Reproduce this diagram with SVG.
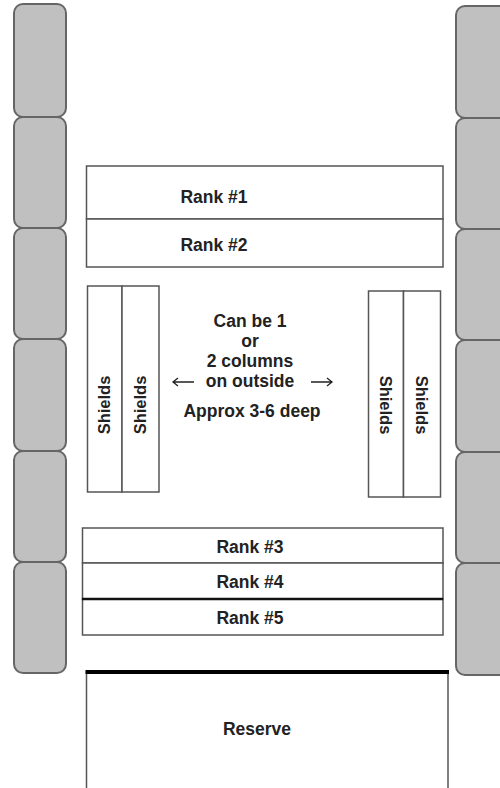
<svg xmlns="http://www.w3.org/2000/svg" width="500" height="788" viewBox="0 0 500 788">
<style>
.pill{fill:#c0c0c0;stroke:#666;stroke-width:2}
.box{fill:#fff;stroke:#555;stroke-width:1.5}
.t{font-family:"Liberation Sans",Arial,sans-serif;font-weight:bold;font-size:17.5px;fill:#222;text-anchor:middle}
.s{font-size:16.5px}
.arr{fill:none;stroke:#222;stroke-width:1.3}
</style>
<rect width="500" height="788" fill="#fff"/>
<g id="left-wall">
<rect class="pill" x="14" y="4" width="52" height="113" rx="9"/>
<rect class="pill" x="14" y="117" width="52" height="111" rx="9"/>
<rect class="pill" x="14" y="228" width="52" height="111" rx="9"/>
<rect class="pill" x="14" y="339" width="52" height="112" rx="9"/>
<rect class="pill" x="14" y="451" width="52" height="111" rx="9"/>
<rect class="pill" x="14" y="562" width="52" height="111" rx="9"/>
</g>
<g id="right-wall">
<rect class="pill" x="456" y="6" width="60" height="112" rx="9"/>
<rect class="pill" x="456" y="118" width="60" height="111" rx="9"/>
<rect class="pill" x="456" y="229" width="60" height="111" rx="9"/>
<rect class="pill" x="456" y="340" width="60" height="112" rx="9"/>
<rect class="pill" x="456" y="452" width="60" height="111" rx="9"/>
<rect class="pill" x="456" y="563" width="60" height="112" rx="9"/>
</g>
<g id="rank1">
<rect class="box" x="86.5" y="166" width="356.5" height="53"/>
<text class="t" x="214" y="203">Rank #1</text>
</g>
<g id="rank2">
<rect class="box" x="86.5" y="219" width="356.5" height="48"/>
<text class="t" x="214" y="251">Rank #2</text>
</g>
<g id="shields-left">
<rect class="box" x="87.5" y="286" width="34.5" height="206"/>
<rect class="box" x="122" y="286" width="37" height="206"/>
<text class="t s" transform="translate(110,405) rotate(-90)">Shields</text>
<text class="t s" transform="translate(146,405) rotate(-90)">Shields</text>
</g>
<g id="shields-right">
<rect class="box" x="368.5" y="291" width="35" height="206"/>
<rect class="box" x="403.5" y="291" width="37" height="206"/>
<text class="t s" transform="translate(380,405) rotate(90)">Shields</text>
<text class="t s" transform="translate(416,405) rotate(90)">Shields</text>
</g>
<g id="note">
<text class="t" x="250" y="327">Can be 1</text>
<text class="t" x="250" y="347">or</text>
<text class="t" x="250" y="367">2 columns</text>
<text class="t" x="250" y="387">on outside</text>
<text class="t" x="252" y="417">Approx 3-6 deep</text>
</g>
<g id="connectors">
<path class="arr" d="M194,382 H173 M178,378 L173,382 L178,386"/>
<path class="arr" d="M311,382 H332 M327,378 L332,382 L327,386"/>
</g>
<g id="rank3">
<rect class="box" x="82.5" y="528" width="360.5" height="35"/>
<text class="t" x="250" y="553">Rank #3</text>
</g>
<g id="rank4">
<rect class="box" x="82.5" y="563" width="360.5" height="36"/>
<text class="t" x="250" y="588">Rank #4</text>
</g>
<g id="rank5">
<rect class="box" x="82.5" y="599" width="360.5" height="36"/>
<line x1="82" y1="599" x2="443" y2="599" stroke="#111" stroke-width="2.5"/>
<text class="t" x="250" y="624">Rank #5</text>
</g>
<g id="reserve">
<rect class="box" x="86.5" y="672" width="361.5" height="130"/>
<line x1="85.5" y1="672" x2="449" y2="672" stroke="#000" stroke-width="4"/>
<text class="t" x="257" y="735">Reserve</text>
</g>
</svg>
